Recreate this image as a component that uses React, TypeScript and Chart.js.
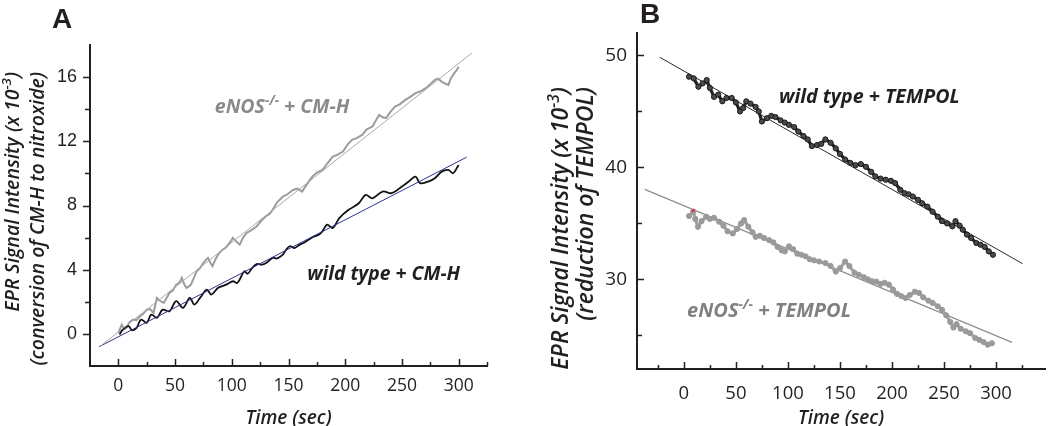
import React, { useEffect, useRef } from "react";
import { Chart, registerables } from "chart.js";
Chart.register(...registerables);

const FONT = "'Open Sans', 'DejaVu Sans', sans-serif";
const ARIAL = "'Liberation Sans', Arial, sans-serif";
const INK = "#231f20";

// ---------------- Panel A data ----------------
const A_X_TICKS = [0, 25, 50, 75, 100, 125, 150, 175, 200, 225, 250, 275, 300, 325];
const A_X_LABELS = [0, 50, 100, 150, 200, 250, 300];
const A_Y_TICKS = [0, 2, 4, 6, 8, 10, 12, 14, 16];
const A_Y_LABELS = [0, 4, 8, 12, 16];

const A_ENOS_X = [0, 3, 5, 7, 10, 13, 16, 19, 22, 25, 28, 31, 34, 37, 40, 43, 45, 48, 51, 54, 56, 58, 60, 62, 64, 67, 69, 72, 75, 77, 79, 81, 83, 86, 89, 92, 95, 98, 101, 104, 107, 110, 113, 117, 122, 126, 130, 133, 136, 140, 145, 149, 154, 158, 162, 166, 171, 175, 180, 184, 189, 193, 198, 202, 206, 210, 215, 219, 224, 227, 230, 233, 236, 240, 244, 248, 253, 257, 262, 266, 271, 275, 279, 282, 285, 288, 291, 293, 296, 298, 300];
const A_ENOS_Y = [0.06, 0.58, 0.3, 0.37, 0.75, 0.89, 0.85, 1.1, 1.25, 1.51, 1.55, 1.31, 2.24, 2.05, 1.93, 2.3, 2.55, 2.7, 3.07, 3.2, 3.49, 3.1, 2.87, 2.95, 3.07, 3.55, 3.9, 4.1, 4.42, 4.6, 4.74, 4.45, 4.22, 4.7, 5.05, 5.25, 5.4, 5.67, 5.98, 5.75, 5.56, 6.0, 6.29, 6.45, 6.71, 7.05, 7.33, 7.45, 7.73, 8.2, 8.55, 8.7, 8.97, 9.05, 8.87, 9.3, 9.8, 10.05, 10.22, 10.6, 11.05, 11.15, 11.36, 11.8, 12.09, 12.2, 12.4, 12.75, 12.92, 13.3, 13.64, 13.5, 13.44, 13.85, 14.16, 14.3, 14.58, 14.75, 15.0, 15.1, 15.31, 15.55, 15.83, 15.9, 15.72, 15.6, 15.51, 15.9, 16.24, 16.4, 16.65];

const A_WT_X = [1, 4, 9, 12, 16, 20, 25, 29, 34, 39, 45, 51, 57, 63, 67, 72, 78, 82, 88, 95, 101, 105, 111, 114, 118, 122, 127, 131, 136, 140, 145, 147, 151, 155, 160, 164, 168, 172, 177, 180, 184, 189, 195, 203, 212, 218, 224, 233, 241, 250, 256, 262, 266, 273, 279, 285, 291, 295, 300];
const A_WT_Y = [-0.04, 0.27, 0.48, 0.23, 0.37, 0.89, 0.69, 1.2, 1.0, 1.51, 1.41, 2.04, 1.62, 2.24, 1.83, 2.24, 2.76, 2.45, 2.87, 3.07, 3.28, 3.18, 3.9, 3.75, 4.11, 4.35, 4.32, 4.45, 4.74, 4.7, 4.94, 5.15, 5.46, 5.35, 5.56, 5.7, 5.88, 6.05, 6.19, 6.4, 6.81, 6.6, 7.23, 7.73, 8.14, 8.66, 8.45, 8.87, 8.77, 9.18, 9.49, 9.8, 9.39, 9.49, 9.7, 10.11, 10.22, 10.01, 10.53];

const A_ENOS_FIT_X = [-16, 311.5];
const A_ENOS_FIT_Y = [-0.77, 17.49];
const A_WT_FIT_X = [-17, 307];
const A_WT_FIT_Y = [-0.8, 11.01];

// ---------------- Panel B data ----------------
const B_X_TICKS = [-25, 0, 25, 50, 75, 100, 125, 150, 175, 200, 225, 250, 275, 300, 325];
const B_X_LABELS = [0, 50, 100, 150, 200, 250, 300];
const B_Y_TICKS = [25, 30, 35, 40, 45, 50];
const B_Y_LABELS = [30, 40, 50];

const B_WT_X = [5, 9.5, 14, 18, 22, 25, 29, 33, 37, 41, 46, 50, 54, 57, 60, 64, 69, 72, 75, 80, 84, 88, 93, 97, 101, 106, 110, 115, 119, 123, 128, 132, 136, 141, 146, 150, 155, 160, 165, 170, 175, 180, 184, 189, 194, 199, 203, 208, 212, 216, 220, 225, 229, 234, 239, 244, 248, 253, 258, 261, 265, 268, 272, 276, 281, 285, 289, 293, 297];
const B_WT_Y = [48.1, 47.95, 47.2, 47.5, 47.8, 47.1, 46.3, 46.5, 45.9, 46.2, 46.2, 45.8, 45.0, 45.3, 45.9, 45.7, 45.4, 45.0, 44.1, 44.4, 44.6, 44.5, 44.2, 44.0, 43.8, 43.6, 43.2, 42.8, 42.5, 41.9, 42.0, 42.1, 42.5, 42.2, 41.7, 41.2, 40.7, 40.4, 40.2, 40.3, 40.05, 39.6, 39.2, 39.0, 38.9, 38.8, 38.6, 38.0, 37.7, 37.6, 37.4, 37.1, 36.8, 36.5, 36.05, 35.6, 35.2, 35.0, 34.74, 35.2, 34.8, 34.44, 34.0, 33.7, 33.25, 33.1, 32.9, 32.5, 32.2];

const B_ENOS_X = [5, 9, 11, 13.6, 17, 21.5, 25, 29, 34, 38, 42, 47, 51, 55, 58, 62, 66, 69, 73, 77, 82, 86, 90, 94, 97, 101, 105, 109, 113, 117, 121, 125, 130, 136, 141, 146, 150, 155, 159, 164, 168, 173, 177, 181, 185, 189, 193, 197, 201, 205, 209, 213, 217, 222, 226, 230, 235, 239, 244, 248, 252, 256, 259, 262, 266, 271, 275, 280, 284, 288, 292, 296];
const B_ENOS_Y = [35.66, 36.05, 35.4, 34.7, 35.2, 35.6, 35.4, 35.5, 35.15, 34.8, 34.3, 34.1, 34.5, 35.0, 35.3, 34.7, 34.2, 33.8, 33.9, 33.7, 33.5, 33.3, 32.9, 32.6, 32.5, 32.95, 32.7, 32.3, 32.2, 32.06, 31.8, 31.7, 31.6, 31.46, 31.2, 30.7, 31.0, 31.6, 31.2, 30.6, 30.42, 30.2, 30.0, 29.83, 29.8, 29.6, 29.7, 29.53, 29.1, 28.7, 28.5, 28.34, 28.6, 28.9, 28.79, 28.4, 28.1, 27.9, 27.6, 27.3, 26.8, 26.2, 25.7, 26.0, 25.6, 25.36, 25.2, 24.77, 24.6, 24.4, 24.17, 24.3];

const B_RED_X = [9];
const B_RED_Y = [36.15];

const B_WT_FIT_X = [-23.1, 325.5];
const B_WT_FIT_Y = [49.83, 31.4];
const B_ENOS_FIT_X = [-37.6, 315.3];
const B_ENOS_FIT_Y = [38.04, 24.38];

// ---------------- helpers ----------------
const pts = (xs: number[], ys: number[]) => xs.map((x, i) => ({ x, y: ys[i] }));

type Seg = { t: string; sup?: boolean };
const fontStr = (size: number, weight: string, italic: boolean, family = FONT) =>
  `${italic ? "italic " : ""}${weight} ${size}px ${family}`;

function segsWidth(ctx: CanvasRenderingContext2D, segs: Seg[], size: number, weight: string, italic: boolean) {
  let w = 0;
  for (const s of segs) {
    ctx.font = fontStr(s.sup ? size * 0.68 : size, weight, italic);
    w += ctx.measureText(s.t).width;
  }
  return w;
}
function drawSegs(ctx: CanvasRenderingContext2D, segs: Seg[], x: number, y: number, size: number, weight: string, italic: boolean, color: string) {
  ctx.fillStyle = color;
  ctx.textAlign = "left";
  ctx.textBaseline = "alphabetic";
  let cx = x;
  for (const s of segs) {
    const sz = s.sup ? size * 0.68 : size;
    ctx.font = fontStr(sz, weight, italic);
    ctx.fillText(s.t, cx, s.sup ? y - size * 0.4 : y);
    cx += ctx.measureText(s.t).width;
  }
}

type Note = { x: number; y: number; segs: Seg[]; size: number; color: string };
type Decor = {
  letter: string; letterX: number; letterY: number;
  titleLines: { segs: Seg[]; cx: number }[]; titleTop: number; titleSize: number;
  notes: Note[];
  xTicks: number[]; xMajor: number[]; yTicks: number[]; yMajor: number[]; yInward: boolean;
};

const decorPlugin = (d: Decor) => ({
  id: "decor",
  afterDraw(chart: any) {
    const { ctx, chartArea, scales } = chart;
    ctx.save();
    // tick marks
    ctx.strokeStyle = INK;
    ctx.lineWidth = 1.5;
    for (const v of d.xTicks) {
      const p = Math.round(scales.x.getPixelForValue(v)) + 0.5;
      const len = d.xMajor.includes(v) ? 7 : 4;
      ctx.beginPath();
      ctx.moveTo(p, chartArea.bottom);
      ctx.lineTo(p, chartArea.bottom - len);
      ctx.stroke();
    }
    for (const v of d.yTicks) {
      const p = Math.round(scales.y.getPixelForValue(v)) + 0.5;
      const len = d.yMajor.includes(v) ? 7 : 5;
      ctx.beginPath();
      ctx.moveTo(chartArea.left, p);
      ctx.lineTo(chartArea.left + (d.yInward ? len : -len), p);
      ctx.stroke();
    }
    // panel letter
    ctx.fillStyle = INK;
    ctx.textAlign = "left";
    ctx.textBaseline = "alphabetic";
    ctx.font = `bold 28px ${ARIAL}`;
    ctx.fillText(d.letter, d.letterX, d.letterY);
    // y title (rotated, end-aligned at top)
    for (const line of d.titleLines) {
      ctx.save();
      ctx.translate(line.cx, d.titleTop);
      ctx.rotate(-Math.PI / 2);
      const w = segsWidth(ctx, line.segs, d.titleSize, "600", true);
      drawSegs(ctx, line.segs, -w, d.titleSize * 0.36, d.titleSize, "600", true, INK);
      ctx.restore();
    }
    // annotations (anchored in data coordinates)
    for (const n of d.notes) {
      const px = scales.x.getPixelForValue(n.x);
      const py = scales.y.getPixelForValue(n.y);
      drawSegs(ctx, n.segs, px, py, n.size, "bold", true, n.color);
    }
    ctx.restore();
  },
});

const setTicks = (vals: number[]) => (s: any) => {
  s.ticks = vals.map((v) => ({ value: v }));
};

function makeScales(o: {
  xMin: number; xMax: number; xTicks: number[]; xLabels: number[]; xFont: number; xPad: number; xHeight: number;
  yMin: number; yMax: number; yTicks: number[]; yLabels: number[]; yFont: number; yFamily: string; yPad: number; yWidth: number;
  titleLH: number;
}) {
  return {
    x: {
      type: "linear",
      min: o.xMin,
      max: o.xMax,
      afterBuildTicks: setTicks(o.xTicks),
      grid: { display: false, drawTicks: false },
      border: { display: true, color: INK, width: 2 },
      ticks: {
        autoSkip: false,
        maxRotation: 0,
        padding: o.xPad,
        color: INK,
        font: { family: FONT, size: o.xFont },
        callback: (v: number) => (o.xLabels.includes(v) ? String(v) : ""),
      },
      title: {
        display: true,
        text: "Time (sec)",
        color: INK,
        padding: 0,
        font: { family: FONT, size: 19, style: "italic", weight: "600", lineHeight: `${o.titleLH}px` },
      },
      afterFit: (s: any) => {
        s.height = o.xHeight;
      },
    },
    y: {
      type: "linear",
      min: o.yMin,
      max: o.yMax,
      afterBuildTicks: setTicks(o.yTicks),
      grid: { display: false, drawTicks: false },
      border: { display: true, color: INK, width: 2 },
      ticks: {
        autoSkip: false,
        padding: o.yPad,
        color: INK,
        font: { family: o.yFamily, size: o.yFont },
        callback: (v: number) => (o.yLabels.includes(v) ? String(v) : ""),
      },
      afterFit: (s: any) => {
        s.width = o.yWidth;
      },
    },
  };
}

const lineDs = (xs: number[], ys: number[], color: string, width: number, extra: any = {}) => ({
  data: pts(xs, ys),
  showLine: true,
  borderColor: color,
  backgroundColor: color,
  borderWidth: width,
  pointRadius: 0,
  ...extra,
});

export default function App() {
  const refA = useRef<HTMLCanvasElement>(null);
  const refB = useRef<HTMLCanvasElement>(null);

  useEffect(() => {
    const common = {
      animation: false,
      responsive: false,
      devicePixelRatio: 1,
      events: [],
      plugins: { legend: { display: false }, tooltip: { enabled: false } },
    };

    const chartA = new Chart(refA.current as HTMLCanvasElement, {
      type: "scatter",
      data: {
        datasets: [
          lineDs(A_ENOS_FIT_X, A_ENOS_FIT_Y, "#a9a9a9", 1),
          lineDs(A_WT_FIT_X, A_WT_FIT_Y, "#2e3192", 1),
          lineDs(A_WT_X, A_WT_Y, "#111111", 1.8, { tension: 0.35 }),
          lineDs(A_ENOS_X, A_ENOS_Y, "#9c9c9c", 2),
        ],
      },
      options: {
        ...common,
        layout: { padding: { top: 45, right: 33, left: 0, bottom: 0 } },
        scales: makeScales({
          xMin: -25, xMax: 325, xTicks: A_X_TICKS, xLabels: A_X_LABELS, xFont: 17.5, xPad: 10, xHeight: 60,
          yMin: -2, yMax: 18, yTicks: A_Y_TICKS, yLabels: A_Y_LABELS, yFont: 18, yFamily: ARIAL, yPad: 13, yWidth: 90,
          titleLH: 14,
        }),
      } as any,
      plugins: [
        decorPlugin({
          letter: "A", letterX: 52, letterY: 28,
          titleLines: [
            { segs: [{ t: "EPR Signal Intensity (x 10" }, { t: "-3", sup: true }, { t: ")" }], cx: 12 },
            { segs: [{ t: "(conversion of CM-H to nitroxide)" }], cx: 37 },
          ],
          titleTop: 72, titleSize: 19.5,
          notes: [
            { x: 85, y: 13.75, segs: [{ t: "eNOS" }, { t: "-/-", sup: true }, { t: " + CM-H" }], size: 19.5, color: "#8a8a8a" },
            { x: 166.6, y: 3.38, segs: [{ t: "wild type + CM-H" }], size: 19.3, color: INK },
          ],
          xTicks: A_X_TICKS, xMajor: A_X_LABELS, yTicks: A_Y_TICKS, yMajor: A_Y_LABELS, yInward: false,
        }),
      ],
    } as any);

    const chartB = new Chart(refB.current as HTMLCanvasElement, {
      type: "scatter",
      data: {
        datasets: [
          lineDs(B_RED_X, B_RED_Y, "#e0303a", 0, { showLine: false, pointRadius: 1.6, pointBorderWidth: 0 }),
          lineDs(B_WT_X, B_WT_Y, "#222222", 3.2, { pointRadius: 2.6, pointBackgroundColor: "#4a4a4a", pointBorderColor: "#1a1a1a", pointBorderWidth: 1 }),
          lineDs(B_ENOS_X, B_ENOS_Y, "#a3a3a3", 3.2, { pointRadius: 2.6, pointBackgroundColor: "#9a9a9a", pointBorderColor: "#9a9a9a", pointBorderWidth: 1 }),
          lineDs(B_WT_FIT_X, B_WT_FIT_Y, "#2b2b2b", 1),
          lineDs(B_ENOS_FIT_X, B_ENOS_FIT_Y, "#8e8e8e", 1.2),
        ],
      },
      options: {
        ...common,
        layout: { padding: { top: 33, right: 0, left: 0, bottom: 0 } },
        scales: makeScales({
          xMin: -45, xMax: 347, xTicks: B_X_TICKS, xLabels: B_X_LABELS, xFont: 18.5, xPad: 14, xHeight: 57,
          yMin: 22, yMax: 52, yTicks: B_Y_TICKS, yLabels: B_Y_LABELS, yFont: 19, yFamily: FONT, yPad: 10, yWidth: 117,
          titleLH: 15,
        }),
      } as any,
      plugins: [
        decorPlugin({
          letter: "B", letterX: 120, letterY: 23,
          titleLines: [
            { segs: [{ t: "EPR Signal Intensity (x 10" }, { t: "-3", sup: true }, { t: ")" }], cx: 40 },
            { segs: [{ t: "(reduction of TEMPOL)" }], cx: 65 },
          ],
          titleTop: 87, titleSize: 23,
          notes: [
            { x: 91.4, y: 45.72, segs: [{ t: "wild type + TEMPOL" }], size: 19.6, color: INK },
            { x: 3.1, y: 26.64, segs: [{ t: "eNOS" }, { t: "-/-", sup: true }, { t: " + TEMPOL" }], size: 20, color: "#808080" },
          ],
          xTicks: B_X_TICKS, xMajor: B_X_LABELS, yTicks: B_Y_TICKS, yMajor: B_Y_LABELS, yInward: true,
        }),
      ],
    } as any);

    return () => {
      chartA.destroy();
      chartB.destroy();
    };
  }, []);

  return (
    <div style={{ position: "fixed", left: 0, top: 0, width: 1050, height: 426, background: "#ffffff", overflow: "hidden" }}>
      <canvas ref={refA} width={520} height={426} style={{ position: "absolute", left: 0, top: 0, width: 520, height: 426 }} />
      <canvas ref={refB} width={530} height={426} style={{ position: "absolute", left: 520, top: 0, width: 530, height: 426 }} />
    </div>
  );
}
